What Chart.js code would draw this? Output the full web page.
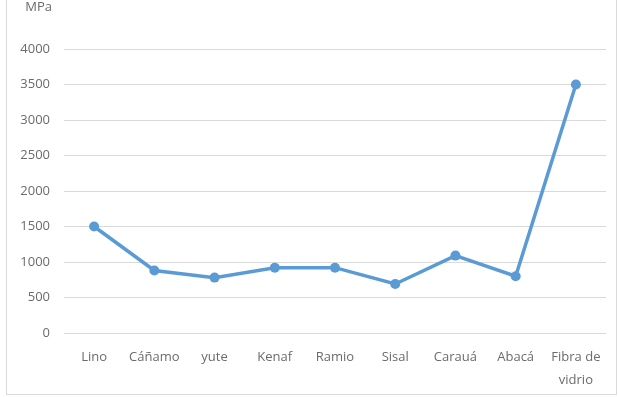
<!DOCTYPE html>
<html>
<head>
<meta charset="utf-8">
<script src="https://cdn.jsdelivr.net/npm/chart.js@4"></script>
<style>
  html, body { margin: 0; padding: 0; background: #fff; }
  #wrap { position: relative; width: 619px; height: 397px; }
  #frame { position: absolute; left: 6px; top: -2px; width: 611px; height: 397px;
           border: 1px solid #d9d9d9; box-sizing: border-box; }
  canvas { position: absolute; left: 0; top: 0; }
</style>
</head>
<body>
<div id="wrap">
  <div id="frame"></div>
  <canvas id="myChart" width="619" height="397"></canvas>
</div>
<script>
// fibre names and tensile strength (MPa)
var labels = ['Lino', 'Cáñamo', 'yute', 'Kenaf', 'Ramio', 'Sisal', 'Carauá', 'Abacá', ['Fibra de', 'vidrio']];
var strength = [1500, 880, 780, 920, 920, 690, 1090, 800, 3500];
var yTicks = [0, 500, 1000, 1500, 2000, 2500, 3000, 3500, 4000];
var unitLabel = 'MPa';

var textColor = '#6b6b6b';
var fontSpec = { family: "'Open Sans', sans-serif", size: 13, lineHeight: 1.75 };

// draw the unit text above the value axis
var unitPlugin = {
    id: 'unitText',
    afterDraw: function(chart) {
        var c = chart.ctx;
        c.save();
        c.fillStyle = textColor;
        c.font = "13px 'Open Sans', sans-serif";
        c.textAlign = 'right';
        c.textBaseline = 'alphabetic';
        c.fillText(unitLabel, 52, 11);
        c.restore();
    }
};

function chartdrawer(ctx)
{
    var myChart = new Chart(ctx, {
        type: 'line',
        data: {
            labels: labels,
            datasets: [{
                label: unitLabel,
                data: strength,
                borderColor: '#5b9bd5',
                backgroundColor: '#5b9bd5',
                borderWidth: 3.5,
                pointRadius: 5,
                pointBorderWidth: 0,
                tension: 0,
                fill: false
            }]
        },
        options: {
            responsive: false,
            animation: false,
            layout: { padding: { left: 0, top: 49, right: 13, bottom: 0 } },
            plugins: {
                legend: { display: false },
                tooltip: { enabled: false }
            },
            scales: {
                x: {
                    offset: true,
                    grid: { display: false, drawTicks: false },
                    border: { display: false },
                    ticks: { color: textColor, font: fontSpec, padding: 13, maxRotation: 0, autoSkip: false },
                    afterFit: function(s) { s.height = 64; }
                },
                y: {
                    min: 0,
                    max: 4000,
                    afterBuildTicks: function(s) { s.ticks = yTicks.map(function(v) { return { value: v }; }); },
                    grid: { color: '#d9d9d9', lineWidth: 1, drawTicks: false },
                    border: { display: false },
                    ticks: {
                        color: textColor,
                        font: { family: "'Open Sans', sans-serif", size: 13 },
                        padding: 14,
                        callback: function(v) { return String(v); }
                    },
                    afterFit: function(s) { s.width = 64; }
                }
            }
        },
        plugins: [unitPlugin]
    });
}

var ctx = document.getElementById('myChart').getContext('2d');
chartdrawer(ctx);
</script>
</body>
</html>
